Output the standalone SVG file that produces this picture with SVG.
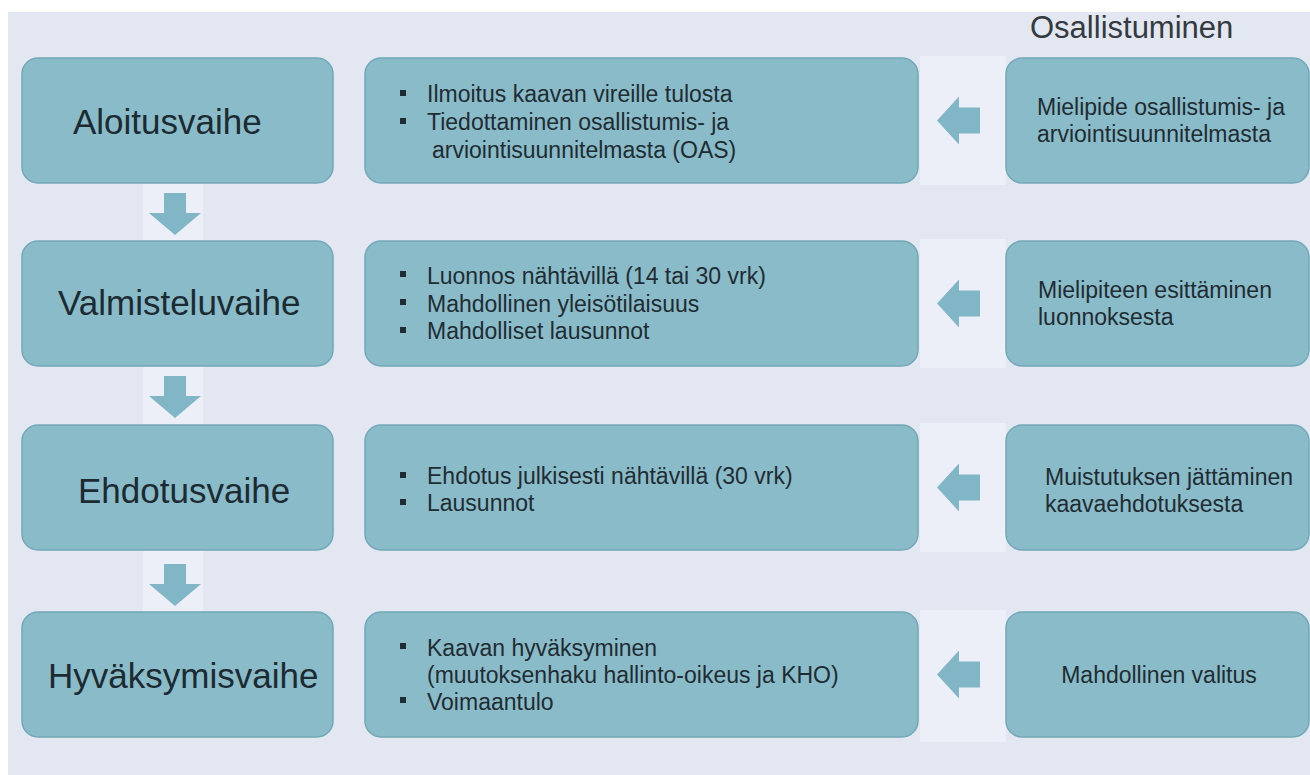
<svg xmlns="http://www.w3.org/2000/svg" width="1310" height="775" viewBox="0 0 1310 775">
<defs>
<style>
.bg{fill:#e3e7f2}
.band{fill:#eceff7}
.box{fill:#8abbc9;stroke:#72a8b7;stroke-width:1.5}
.arr{fill:#80b6c5}
.title{font-family:"Liberation Sans",Arial,sans-serif;font-size:35px;fill:#1c2a31}
.txt{font-family:"Liberation Sans",Arial,sans-serif;font-size:23px;fill:#1f2c32}
.head{font-family:"Liberation Sans",Arial,sans-serif;font-size:31px;fill:#333a40}
.bul{fill:#1f2c32}
</style>
</defs>
<rect x="0" y="0" width="1310" height="775" fill="#ffffff"/>
<rect class="bg" x="8" y="12" width="1302" height="763"/>
<g id="bands">
<rect class="band" x="143" y="184" width="60" height="56"/>
<rect class="band" x="143" y="367" width="60" height="57"/>
<rect class="band" x="143" y="551" width="60" height="60"/>
<rect class="band" x="920" y="56" width="86" height="129"/>
<rect class="band" x="920" y="239" width="86" height="129"/>
<rect class="band" x="920" y="423" width="86" height="129"/>
<rect class="band" x="920" y="610" width="86" height="132"/>
</g>
<text class="head" x="1030" y="38">Osallistuminen</text>
<g id="connectors">
<polygon class="arr" points="164,193 186,193 186,213 201,213 175,235 149,213 164,213"/>
<polygon class="arr" points="164,376 186,376 186,396 201,396 175,418 149,396 164,396"/>
<polygon class="arr" points="164,564 186,564 186,584 201,584 175,606 149,584 164,584"/>
<polygon class="arr" points="937,120.5 959,96.5 959,107.5 980,107.5 980,133.5 959,133.5 959,144.5"/>
<polygon class="arr" points="937,303.5 959,279.5 959,290.5 980,290.5 980,316.5 959,316.5 959,327.5"/>
<polygon class="arr" points="937,487.5 959,463.5 959,474.5 980,474.5 980,500.5 959,500.5 959,511.5"/>
<polygon class="arr" points="937,674.5 959,650.5 959,661.5 980,661.5 980,687.5 959,687.5 959,698.5"/>
</g>
<g id="aloitusvaihe">
<rect class="box" x="22" y="58" width="311" height="125" rx="16"/>
<text class="title" x="73" y="134">Aloitusvaihe</text>
</g>
<g id="valmisteluvaihe">
<rect class="box" x="22" y="241" width="311" height="125" rx="16"/>
<text class="title" x="58" y="315">Valmisteluvaihe</text>
</g>
<g id="ehdotusvaihe">
<rect class="box" x="22" y="425" width="311" height="125" rx="16"/>
<text class="title" x="78" y="503">Ehdotusvaihe</text>
</g>
<g id="hyvaksymisvaihe">
<rect class="box" x="22" y="612" width="311" height="125" rx="16"/>
<text class="title" x="48" y="688">Hyväksymisvaihe</text>
</g>
<g id="toimet1">
<rect class="box" x="365" y="58" width="553" height="125" rx="16"/>
<rect class="bul" x="400" y="90" width="6" height="6"/>
<rect class="bul" x="400" y="118" width="6" height="6"/>
<text class="txt" x="427" y="102">Ilmoitus kaavan vireille tulosta</text>
<text class="txt" x="427" y="130">Tiedottaminen osallistumis- ja</text>
<text class="txt" x="432" y="157.5">arviointisuunnitelmasta (OAS)</text>
</g>
<g id="toimet2">
<rect class="box" x="365" y="241" width="553" height="125" rx="16"/>
<rect class="bul" x="400" y="271" width="6" height="6"/>
<rect class="bul" x="400" y="299" width="6" height="6"/>
<rect class="bul" x="400" y="327" width="6" height="6"/>
<text class="txt" x="427" y="283.5">Luonnos nähtävillä (14 tai 30 vrk)</text>
<text class="txt" x="427" y="311.5">Mahdollinen yleisötilaisuus</text>
<text class="txt" x="427" y="339">Mahdolliset lausunnot</text>
</g>
<g id="toimet3">
<rect class="box" x="365" y="425" width="553" height="125" rx="16"/>
<rect class="bul" x="400" y="472" width="6" height="6"/>
<rect class="bul" x="400" y="499" width="6" height="6"/>
<text class="txt" x="427" y="484">Ehdotus julkisesti nähtävillä (30 vrk)</text>
<text class="txt" x="427" y="511">Lausunnot</text>
</g>
<g id="toimet4">
<rect class="box" x="365" y="612" width="553" height="125" rx="16"/>
<rect class="bul" x="400" y="643" width="6" height="6"/>
<rect class="bul" x="400" y="697" width="6" height="6"/>
<text class="txt" x="427" y="655.5">Kaavan hyväksyminen</text>
<text class="txt" x="427" y="682.5">(muutoksenhaku hallinto-oikeus ja KHO)</text>
<text class="txt" x="427" y="709.5">Voimaantulo</text>
</g>
<g id="osallistuminen1">
<rect class="box" x="1006" y="58" width="303" height="125" rx="16"/>
<text class="txt" x="1037" y="115">Mielipide osallistumis- ja</text>
<text class="txt" x="1037" y="142">arviointisuunnitelmasta</text>
</g>
<g id="osallistuminen2">
<rect class="box" x="1006" y="241" width="303" height="125" rx="16"/>
<text class="txt" x="1038" y="298">Mielipiteen esittäminen</text>
<text class="txt" x="1038" y="325">luonnoksesta</text>
</g>
<g id="osallistuminen3">
<rect class="box" x="1006" y="425" width="303" height="125" rx="16"/>
<text class="txt" x="1045" y="485">Muistutuksen jättäminen</text>
<text class="txt" x="1045" y="512">kaavaehdotuksesta</text>
</g>
<g id="osallistuminen4">
<rect class="box" x="1006" y="612" width="303" height="125" rx="16"/>
<text class="txt" x="1159" y="683" text-anchor="middle">Mahdollinen valitus</text>
</g>
</svg>
